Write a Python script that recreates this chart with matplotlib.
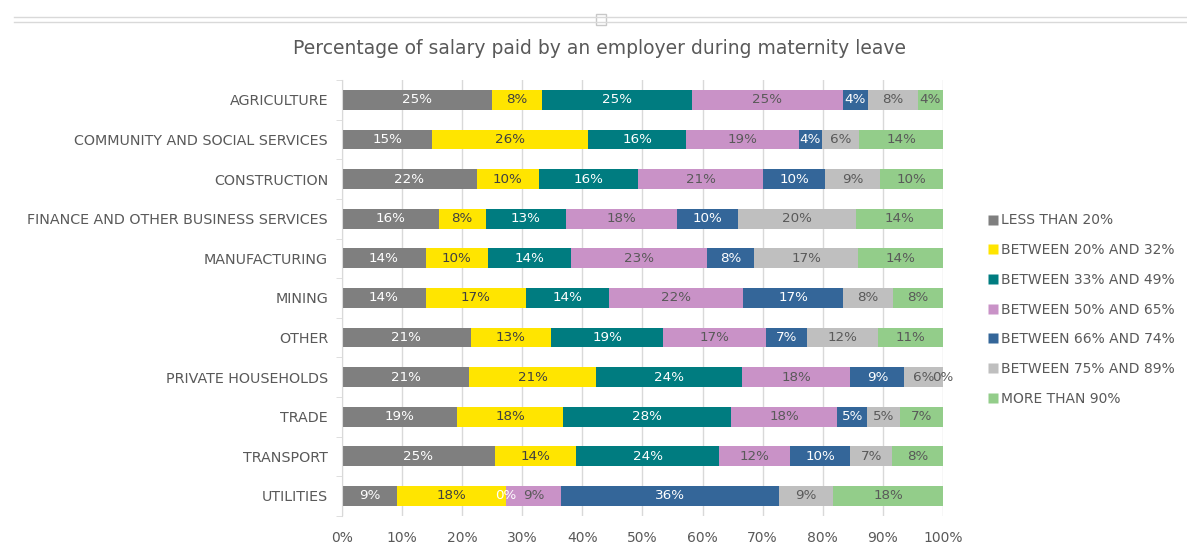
import matplotlib
matplotlib.use("Agg")
import matplotlib.pyplot as plt
from matplotlib.lines import Line2D
from matplotlib.patches import Rectangle
import numpy as np

categories = ["AGRICULTURE", "COMMUNITY AND SOCIAL SERVICES", "CONSTRUCTION",
              "FINANCE AND OTHER BUSINESS SERVICES", "MANUFACTURING", "MINING",
              "OTHER", "PRIVATE HOUSEHOLDS", "TRADE", "TRANSPORT", "UTILITIES"]

series_names = ["LESS THAN 20%", "BETWEEN 20% AND 32%", "BETWEEN 33% AND 49%",
                "BETWEEN 50% AND 65%", "BETWEEN 66% AND 74%", "BETWEEN 75% AND 89%",
                "MORE THAN 90%"]

less_than_20 = [25.0, 15.0, 22.4, 16.1, 13.9, 13.9, 21.4, 21.2, 19.2, 25.4, 9.1]
between_20_32 = [8.3, 26.0, 10.4, 7.8, 10.4, 16.7, 13.4, 21.1, 17.6, 13.6, 18.2]
between_33_49 = [25.0, 16.3, 16.4, 13.4, 13.8, 13.9, 18.6, 24.3, 28.0, 23.7, 0.0]
between_50_65 = [25.0, 18.7, 20.9, 18.4, 22.7, 22.2, 17.2, 18.0, 17.6, 11.9, 9.1]
between_66_74 = [4.2, 3.9, 10.3, 10.2, 7.8, 16.7, 6.8, 9.0, 5.0, 10.0, 36.3]
between_75_89 = [8.3, 6.2, 9.2, 19.7, 17.3, 8.3, 11.8, 6.4, 5.4, 7.0, 9.0]
more_than_90 = [4.2, 13.9, 10.4, 14.4, 14.1, 8.3, 10.8, 0.0, 7.2, 8.4, 18.3]

series_values = [less_than_20, between_20_32, between_33_49, between_50_65,
                 between_66_74, between_75_89, more_than_90]

x_ticks = [0, 10, 20, 30, 40, 50, 60, 70, 80, 90, 100]
x_tick_labels = ["0%", "10%", "20%", "30%", "40%", "50%", "60%", "70%", "80%", "90%", "100%"]

colors = ["#7F7F7F", "#FFE500", "#007C80", "#C992C7", "#346699", "#BFBFBF", "#93CD8A"]
label_colors = ["white", "#404040", "white", "#595959", "white", "#595959", "#595959"]
text_gray = "#595959"

plt.rcParams['font.family'] = ['DejaVu Sans']

fig = plt.figure(figsize=(11.87, 5.5), dpi=100)
ax = fig.add_axes([0.2881, 0.0622, 0.7944 - 0.2881, 0.8542 - 0.0622])

y = np.arange(len(categories))
left = np.zeros(len(categories))
for name, vals, col, lc in zip(series_names, series_values, colors, label_colors):
    vals = np.array(vals, dtype=float)
    ax.barh(y, vals, left=left, height=0.5, color=col, edgecolor="none", zorder=2)
    for yi, (l, v) in enumerate(zip(left, vals)):
        ax.text(l + v / 2, yi, f"{v:.0f}%", ha="center", va="center",
                color=lc, fontsize=9.7, zorder=3)
    left = left + vals

ax.set_xlim(0, 100)
ax.set_ylim(len(categories) - 0.5, -0.5)
ax.set_xticks(x_ticks)
ax.set_xticklabels(x_tick_labels, color=text_gray, fontsize=10)
ax.set_yticks(y)
ax.set_yticklabels(categories, color=text_gray, fontsize=10.3)
ax.tick_params(axis="x", length=0, pad=11)
ax.tick_params(axis="y", length=0, pad=10)
ax.set_yticks(np.arange(len(categories) + 1) - 0.5, minor=True)
ax.tick_params(axis="y", which="minor", length=4, color="#D9D9D9", direction="out")
ax.grid(axis="x", color="#D9D9D9", linewidth=1, zorder=0)
ax.set_axisbelow(True)
for s in ["top", "right", "bottom"]:
    ax.spines[s].set_visible(False)
ax.spines["left"].set_color("#D9D9D9")

fig.suptitle("Percentage of salary paid by an employer during maternity leave",
             x=0.505, y=0.93, color=text_gray, fontsize=13.5)

leg_handles = [Line2D([0], [0], marker="s", color="none", markerfacecolor=c,
                      markeredgecolor="none", markersize=7) for c in colors]
leg = fig.legend(leg_handles, series_names, loc="upper left",
                 bbox_to_anchor=(0.825, 0.622), frameon=False, fontsize=10,
                 labelspacing=1.13, handletextpad=0.0, handlelength=1.2,
                 borderaxespad=0)
for t in leg.get_texts():
    t.set_color(text_gray)

# decorative frame lines at top
fig.add_artist(Line2D([0.012, 1.0], [1 - 17 / 550, 1 - 17 / 550], color="#D9D9D9", lw=1))
fig.add_artist(Line2D([0.012, 1.0], [1 - 22 / 550, 1 - 22 / 550], color="#D9D9D9", lw=1))
fig.add_artist(Rectangle((596 / 1187, 1 - 25 / 550), 10 / 1187, 11 / 550,
                         facecolor="white", edgecolor="#C8C8C8", lw=1))

fig.savefig("out.png", dpi=100, facecolor="white")
